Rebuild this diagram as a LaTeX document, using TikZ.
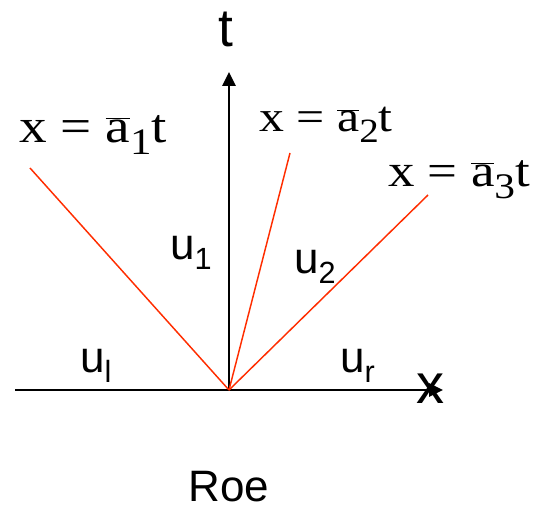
\documentclass[tikz,border=0pt]{standalone}
\usepackage{fontspec}
\setmainfont{Liberation Serif}
\newfontfamily\arial{Liberation Sans}
\usepackage{graphicx}
\usetikzlibrary{arrows.meta}
\definecolor{wavered}{RGB}{255,45,0}
\newcommand{\wavelabel}[2]{\scalebox{1.15}[1]{x\hspace{.25em}=\hspace{.25em}$\overline{\mbox{a}}$\raisebox{-.25em}{\fontsize{#2}{#2}\selectfont #1}t}}
\newcommand{\usub}[2]{\arial #1\raisebox{-7.5pt}{\fontsize{23}{23}\selectfont #2}}
\tikzset{
  axisline/.style={line width=1.6pt, -{Triangle[length=10.5pt,width=10pt]}},
  waveline/.style={wavered, line width=1.1pt},
  serlabel/.style={inner sep=0pt, anchor=base west},
  ulabel/.style={inner sep=0pt, anchor=base west, font=\arial\fontsize{33}{33}\selectfont},
}
\begin{document}
\begin{tikzpicture}[x=0.75pt,y=-0.75pt]
\useasboundingbox (0,0) rectangle (533,510);
\coordinate (O) at (229,390);
\coordinate (xl) at (15,390);
\coordinate (xr) at (443,390);
\coordinate (tt) at (229,72);
\coordinate (e1) at (30,168);
\coordinate (e2) at (290,153);
\coordinate (e3) at (428,195);
\draw[axisline] (xl) -- (xr);
\draw[axisline] (O) -- (tt);
\draw[waveline] (O) -- (e1);
\draw[waveline] (O) -- (e2);
\draw[waveline] (O) -- (e3);
\node[inner sep=0pt, anchor=base, font=\arial\fontsize{40}{40}\selectfont] (tlab) at (226,47) {t};
\node[inner sep=0pt, anchor=base, font=\arial\fontsize{42}{42}\selectfont] (xlab) at (430,403) {x};
\node[serlabel, font=\fontsize{36}{36}\selectfont] (L1) at (19,143) {\wavelabel{1}{28}};
\node[serlabel, font=\fontsize{32.5}{32.5}\selectfont] (L2) at (259,132) {\wavelabel{2}{25.5}};
\node[serlabel, font=\fontsize{34.5}{34.5}\selectfont] (L3) at (388,187) {\wavelabel{3}{27}};
\node[ulabel] (u1) at (170,260) {\usub{u}{1}};
\node[ulabel] (u2) at (294,273) {\usub{u}{2}};
\node[ulabel] (ul) at (80,373) {\usub{u}{l}};
\node[ulabel] (ur) at (340,373) {\usub{u}{r}};
\node[inner sep=0pt, anchor=base, font=\arial\fontsize{33}{33}\selectfont] (roe) at (229,501) {Roe};
\end{tikzpicture}
\end{document}
